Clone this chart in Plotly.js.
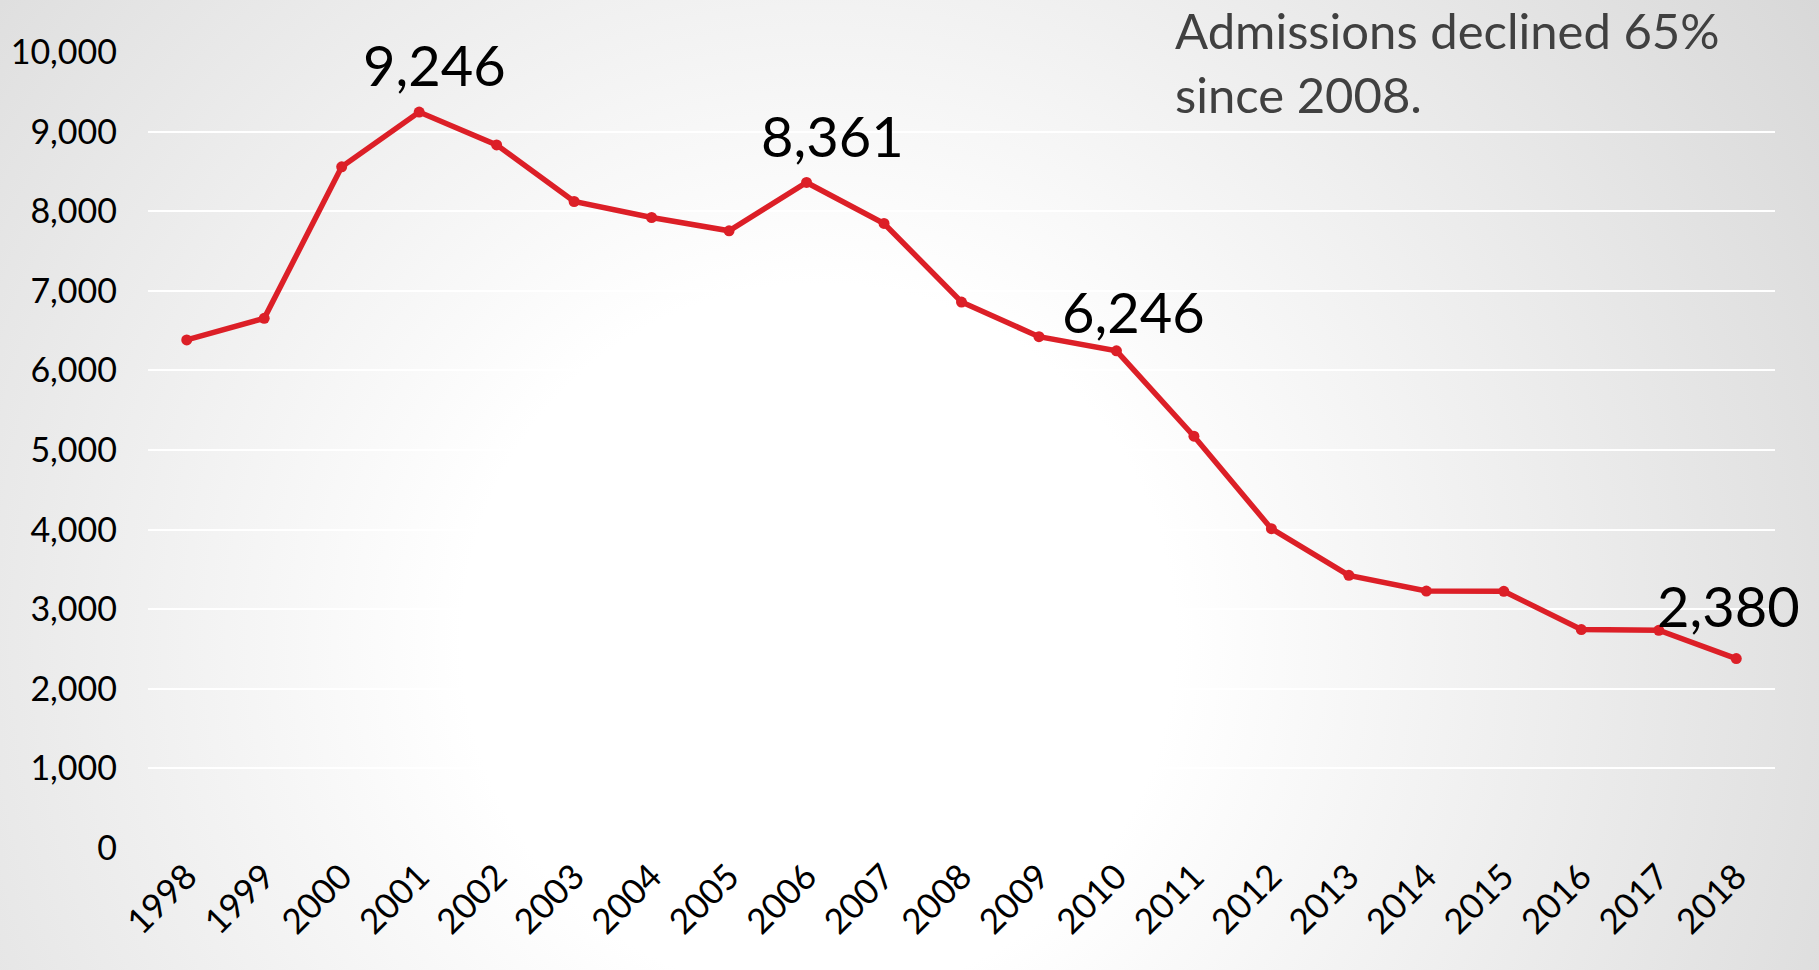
<!DOCTYPE html>
<html>
<head>
<meta charset="utf-8">
<script src="https://cdn.plot.ly/plotly-3.0.1.min.js"></script>
<style>
  html, body { margin: 0; padding: 0; width: 1819px; height: 970px; overflow: hidden; }
  body { background: radial-gradient(circle farthest-corner at 45% 66%, #ffffff 0%, #ffffff 30%, #d8d8d8 100%); }
  #chart { width: 1819px; height: 970px; }
</style>
</head>
<body>
<div id="chart"></div>
<script>
// ---- data ----
const years = ['1998','1999','2000','2001','2002','2003','2004','2005','2006','2007','2008',
               '2009','2010','2011','2012','2013','2014','2015','2016','2017','2018'];
const admissions = [6383, 6654, 8557, 9246, 8833, 8122, 7921, 7754, 8361, 7846, 6859,
                    6424, 6246, 5173, 4011, 3425, 3228, 3225, 2744, 2735, 2380];
const labeledYears = ['2001', '2006', '2010', '2018'];
const yTickValues = [0, 1000, 2000, 3000, 4000, 5000, 6000, 7000, 8000, 9000, 10000];
const noteText = 'Admissions declined 65%<br>since 2008.';

// ---- styling (label offsets in px) ----
const labelOffsets = { '2001': [15, 48], '2006': [26, 47], '2010': [17, 39], '2018': [-8, 53] };
const fontFamily = 'Lato, "Open Sans", sans-serif';
const red = '#dc1f27';

const trace = {
  x: years,
  y: admissions,
  type: 'scatter',
  mode: 'lines+markers',
  line: { color: red, width: 5.5 },
  marker: { color: red, size: 11 },
  hoverinfo: 'x+y'
};

const annotations = labeledYears.map(function (yr) {
  const idx = years.indexOf(yr);
  const v = admissions[idx];
  const off = labelOffsets[yr];
  return {
    x: idx, y: v, xref: 'x', yref: 'y',
    text: v.toLocaleString('en-US'),
    showarrow: false,
    xanchor: 'center', yanchor: 'middle',
    xshift: off[0], yshift: off[1],
    font: { family: fontFamily, size: 56, color: '#000000' }
  };
});

annotations.push({
  xref: 'paper', yref: 'paper',
  x: 0.6300, y: 1.066,
  xanchor: 'left', yanchor: 'top', align: 'left',
  text: noteText,
  showarrow: false,
  font: { family: fontFamily, size: 49, color: '#404040' }
});

const layout = {
  width: 1819,
  height: 970,
  margin: { l: 148, r: 44, t: 52, b: 122 },
  paper_bgcolor: 'rgba(0,0,0,0)',
  plot_bgcolor: 'rgba(0,0,0,0)',
  showlegend: false,
  font: { family: fontFamily, color: '#000000' },
  xaxis: {
    type: 'category',
    range: [-0.5, years.length - 0.5],
    tickangle: -45,
    tickfont: { family: fontFamily, size: 35, color: '#000000' },
    showgrid: false,
    zeroline: false,
    showline: false,
    ticks: '',
    fixedrange: true
  },
  yaxis: {
    range: [0, 10000],
    tickvals: yTickValues,
    tickformat: ',d',
    tickfont: { family: fontFamily, size: 34, color: '#000000' },
    showgrid: true,
    gridcolor: '#ffffff',
    gridwidth: 2,
    zeroline: false,
    showline: false,
    ticks: '',
    ticklabelstandoff: 30,
    fixedrange: true
  },
  annotations: annotations
};

Plotly.newPlot('chart', [trace], layout, { displayModeBar: false, staticPlot: true });
</script>
</body>
</html>
